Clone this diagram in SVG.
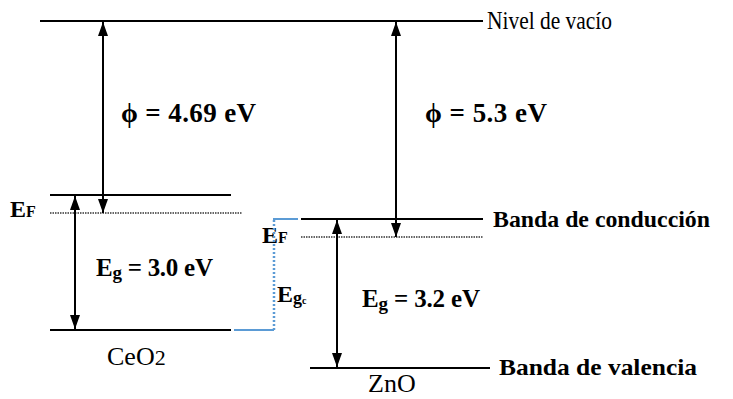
<svg xmlns="http://www.w3.org/2000/svg" width="733" height="399" viewBox="0 0 733 399" font-family="'Liberation Serif', 'Times New Roman', Times, serif">
<defs>
<marker id="head" viewBox="0 0 14 10" refX="14" refY="5" markerWidth="14" markerHeight="10" markerUnits="userSpaceOnUse" orient="auto-start-reverse">
<path d="M0,0 L14,5 L0,10 Z" fill="#000"/>
</marker>
<style>
.lvl{stroke:#000;stroke-width:2;fill:none}
.ef{stroke:#666;stroke-width:2;stroke-dasharray:1.5,1;fill:none}
.arr{stroke:#000;stroke-width:2;fill:none;marker-start:url(#head);marker-end:url(#head)}
.blue{stroke:#5b9bd5;stroke-width:2;fill:none}
.blued{stroke:#5b9bd5;stroke-width:2.5;stroke-dasharray:2,2;fill:none}
text{font-family:'Liberation Serif','Times New Roman',Times,serif;fill:#000}
.lab{font-size:24px}
.b{font-weight:bold}
.mat{font-size:26px}
</style>
</defs>
<rect width="733" height="399" fill="#fff"/>

<g id="vacuum">
<line class="lvl" x1="40" y1="21" x2="483" y2="21"/>
<text x="487" y="29" font-size="26" textLength="125" lengthAdjust="spacingAndGlyphs">Nivel de vacío</text>
</g>

<g id="ceo2">
<line class="lvl" x1="50" y1="195" x2="231" y2="195"/>
<line class="ef" x1="50" y1="213" x2="242" y2="213"/>
<line class="lvl" x1="50" y1="330" x2="231" y2="330"/>
<text class="b" x="10" y="217" font-size="24">E<tspan font-size="16">F</tspan></text>
<text class="b" x="96" y="276" font-size="25" textLength="117">E<tspan font-size="19" dy="3">g</tspan><tspan dy="-3"> = 3.0 eV</tspan></text>
<text class="mat" x="107" y="365">CeO<tspan font-size="22">2</tspan></text>
</g>

<g id="zno">
<line class="lvl" x1="301" y1="219" x2="483" y2="219"/>
<line class="ef" x1="301" y1="237" x2="483" y2="237"/>
<line class="lvl" x1="310" y1="368" x2="490" y2="368"/>
<text class="b" x="262" y="243" font-size="24">E<tspan font-size="16">F</tspan></text>
<text class="b" x="362" y="307" font-size="25" textLength="118">E<tspan font-size="19" dy="3">g</tspan><tspan dy="-3"> = 3.2 eV</tspan></text>
<text class="mat" x="368" y="392">ZnO</text>
<text class="lab b" x="493" y="227" textLength="217" lengthAdjust="spacingAndGlyphs">Banda de conducción</text>
<text class="lab b" x="499" y="375" textLength="198" lengthAdjust="spacingAndGlyphs">Banda de valencia</text>
</g>

<g id="phi-labels">
<text class="b" x="121" y="122" font-size="27" textLength="135">ϕ = 4.69 eV</text>
<text class="b" x="425" y="122" font-size="27" textLength="122">ϕ = 5.3 eV</text>
</g>

<g id="egc">
<text class="b" x="277" y="302" font-size="24">E<tspan font-size="18" dy="2">g</tspan><tspan font-size="10">c</tspan></text>
</g>

<g id="connectors">
<line class="arr" x1="103" y1="22" x2="103" y2="213"/>
<line class="arr" x1="396" y1="22" x2="396" y2="237"/>
<line class="arr" x1="75" y1="196" x2="75" y2="329"/>
<line class="arr" x1="337" y1="220" x2="337" y2="367"/>
<polyline class="blue" points="234,330 274,330"/>
<polyline class="blued" points="274,330 274,219"/>
<polyline class="blue" points="273,219 298,219"/>
</g>
</svg>
